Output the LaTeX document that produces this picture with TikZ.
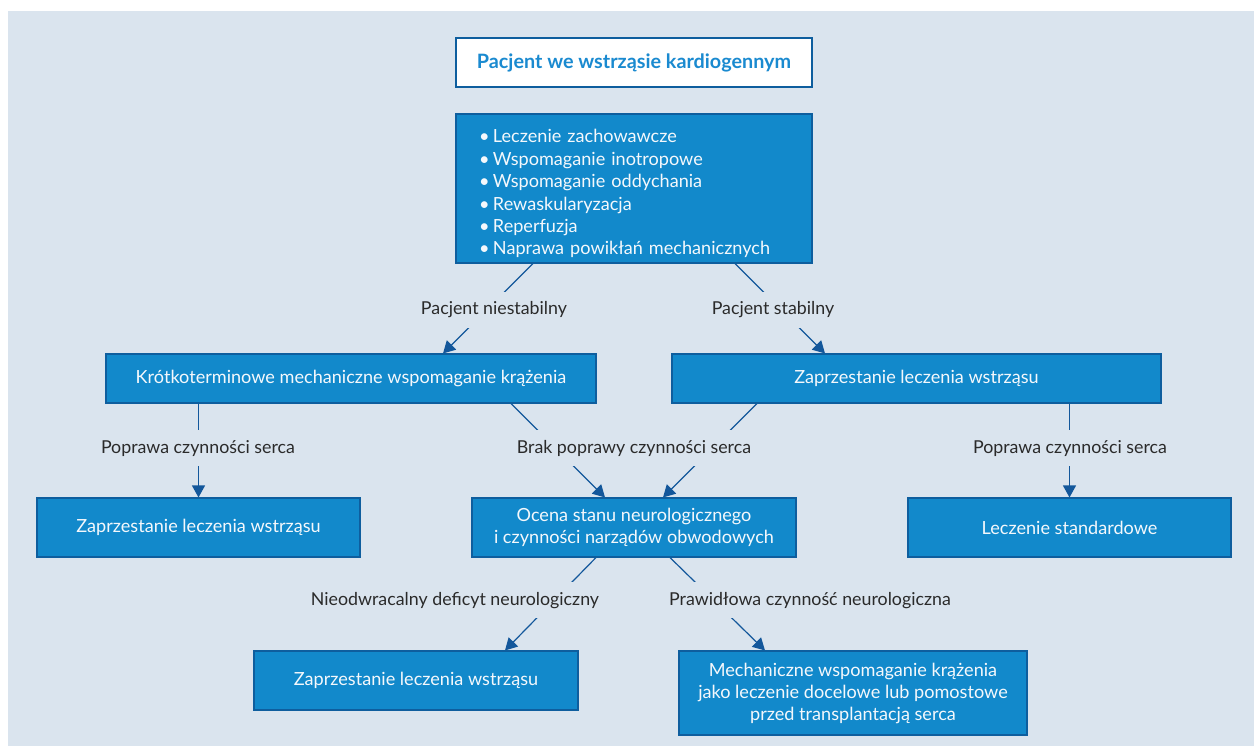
\documentclass[tikz,border=0pt]{standalone}
\usepackage{fontspec}
\setmainfont{Lato}
\usetikzlibrary{arrows.meta}
\definecolor{bgc}{HTML}{DAE4EE}
\definecolor{boxc}{HTML}{1289CB}
\definecolor{boxd}{HTML}{0E5E9E}
\definecolor{arrc}{HTML}{13579B}
\definecolor{titc}{HTML}{1A8AD0}
\definecolor{labc}{HTML}{2A2A2A}
\definecolor{boxtxt}{HTML}{F4F8FC}
\pgfdeclarelayer{bglayer}
\pgfdeclarelayer{edges}
\pgfsetlayers{bglayer,edges,main}
\begin{document}
\begin{tikzpicture}[x=1pt,y=-1pt,
  box/.style={draw=boxd, fill=boxc, line width=1.1pt, text=boxtxt, align=center,
    inner sep=0pt, font=\fontsize{18.1}{22}\selectfont},
  titlebox/.style={box, fill=white, text=titc, font=\bfseries\fontsize{19.8}{22}\selectfont},
  lab/.style={fill=bgc, text=labc, inner xsep=3pt, inner ysep=10pt, text height=13pt,
    text depth=3pt, font=\fontsize{17.8}{22}\selectfont},
  conn/.style={draw=arrc, line width=1.2pt},
  arr/.style={conn, -{Triangle[length=12pt,width=13pt]}}]
\useasboundingbox (0,0) rectangle (1254,746);
\begin{pgfonlayer}{bglayer}
  \fill[white] (0,0) rectangle (1254,746);
  \fill[bgc] (8,11) rectangle (1254,746);
\end{pgfonlayer}

% boxes
\node[titlebox, minimum width=356pt, minimum height=49pt] (title) at (634,62.5)
  {Pacjent we wstrząsie kardiogennym};
\newcommand{\bul}{\hspace*{23pt}\makebox[14pt][l]{\textbullet}}
\node[box, minimum width=356pt, minimum height=149pt, text width=356pt, align=left,
  font=\fontsize{18.1}{22.4}\selectfont] (top) at (634,188.5)
  {\rule{0pt}{24pt}\bul Leczenie zachowawcze\\
   \bul Wspomaganie inotropowe\\
   \bul Wspomaganie oddychania\\
   \bul Rewaskularyzacja\\
   \bul Reperfuzja\\
   \bul Naprawa powikłań mechanicznych};
\node[box, minimum width=490pt, minimum height=49pt] (krot) at (351,378.5)
  {Krótkoterminowe mechaniczne wspomaganie krążenia};
\node[box, minimum width=489pt, minimum height=49pt] (zr) at (916.5,378.5)
  {Zaprzestanie leczenia wstrząsu};
\node[box, minimum width=323pt, minimum height=59pt] (zl) at (198.5,527.5)
  {Zaprzestanie leczenia wstrząsu};
\node[box, minimum width=324pt, minimum height=59pt] (ocena) at (634,527.5)
  {Ocena stanu neurologicznego\\i czynności narządów obwodowych};
\node[box, minimum width=323pt, minimum height=59pt] (lecz) at (1069.5,527.5)
  {Leczenie standardowe};
\node[box, minimum width=324pt, minimum height=59pt] (zb) at (416,680.5)
  {Zaprzestanie leczenia wstrząsu};
\node[box, minimum width=348pt, minimum height=84pt] (mech) at (853,693)
  {Mechaniczne wspomaganie krążenia\\jako leczenie docelowe lub pomostowe\\przed transplantacją serca};

% labels
\node[lab] (l1) at (494,310) {Pacjent niestabilny};
\node[lab] (l2) at (773,310) {Pacjent stabilny};
\node[lab] (l3) at (198,448) {Poprawa czynności serca};
\node[lab] (l4) at (634,448) {Brak poprawy czynności serca};
\node[lab] (l5) at (1070,448) {Poprawa czynności serca};
\node[lab] (l6) at (455,600) {Nieodwracalny deficyt neurologiczny};
\node[lab] (l7) at (810,600) {Prawidłowa czynność neurologiczna};

% connectors
\begin{pgfonlayer}{edges}
  \draw[arr] ([xshift=-101pt]top.south) -- ([xshift=92pt]krot.north);
  \draw[arr] ([xshift=101pt]top.south) -- ([xshift=-91.5pt]zr.north);
  \draw[arr] (krot.south -| zl.north) -- (zl.north);
  \draw[arr] ([xshift=160pt]krot.south) -- ([xshift=-29pt]ocena.north);
  \draw[arr] ([xshift=-159.5pt]zr.south) -- ([xshift=29pt]ocena.north);
  \draw[arr] (zr.south -| lecz.north) -- (lecz.north);
  \draw[arr] ([xshift=-38pt]ocena.south) -- ([xshift=89pt]zb.north);
  \draw[arr] ([xshift=36pt]ocena.south) -- ([xshift=-88pt]mech.north);
\end{pgfonlayer}
\end{tikzpicture}
\end{document}
